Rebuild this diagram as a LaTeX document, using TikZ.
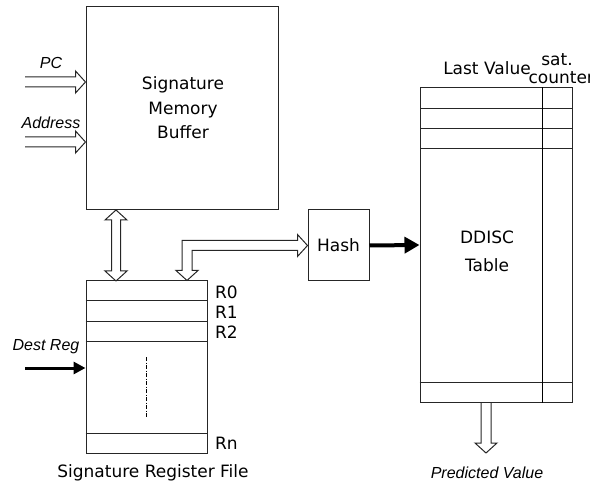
\documentclass[tikz,border=0pt]{standalone}
\usepackage{fontspec}
\setmainfont{DejaVu Sans}
\newfontfamily\inputfont{Liberation Sans}
\usetikzlibrary{arrows.meta,calc}

% hollow (outline) arrows, head 10 long, 22 wide, shaft 10 wide
\newcommand{\hollowright}[2]{%
  \draw[hol] ($(#1)+(0,-5)$) -- ($(#2)+(-10,-5)$) -- ($(#2)+(-10,-11)$) -- (#2)
    -- ($(#2)+(-10,11)$) -- ($(#2)+(-10,5)$) -- ($(#1)+(0,5)$);}
\newcommand{\hollowdown}[2]{%
  \draw[hol] ($(#1)+(-5,0)$) -- ($(#2)+(-5,-10)$) -- ($(#2)+(-11,-10)$) -- (#2)
    -- ($(#2)+(11,-10)$) -- ($(#2)+(5,-10)$) -- ($(#1)+(5,0)$);}
\newcommand{\hollowboth}[2]{%
  \draw[hol] (#1) -- ($(#1)+(11,10)$) -- ($(#1)+(4.5,10)$) -- ($(#2)+(4.5,-10)$)
    -- ($(#2)+(11,-10)$) -- (#2) -- ($(#2)+(-11,-10)$) -- ($(#2)+(-4.5,-10)$)
    -- ($(#1)+(-4.5,10)$) -- ($(#1)+(-11,10)$) -- cycle;}

\begin{document}
\begin{tikzpicture}[
    x=1pt,y=-1pt,
    blk/.style={draw=black!85, line width=1pt, inner sep=0pt},
    hol/.style={draw=black!85, line width=1pt, line join=miter},
    a/.style={-{Triangle[length=15pt,width=16pt]}, line width=4pt},
    lbl/.style={font=\fontsize{17}{20}\selectfont, align=center},
    inp/.style={font=\inputfont\itshape\fontsize{16}{19}\selectfont}
]
\useasboundingbox (0,0) rectangle (606,484);

% Blocks
\node[blk, minimum width=192pt, minimum height=203pt] (smb) at (182,108.5) {};
\node[lbl, font=\fontsize{17}{24.5}\selectfont] (smbtext) at (183,108) {Signature\\Memory\\Buffer};
\node[blk, minimum width=121pt, minimum height=172pt] (regfile) at (146.5,367) {};
\node[blk, minimum width=61pt, minimum height=71pt] (hash) at (338.5,245.5) {};
\node[lbl] (hashtext) at (338.5,245.5) {Hash};
\node[blk, minimum width=152pt, minimum height=314pt] (ddisc) at (496,245) {};
\node[lbl, font=\fontsize{17}{28}\selectfont] (ddisctext) at (487,251) {DDISC\\Table};

% Register rows
\foreach \dy in {20,41,61}
  \draw[black!85, line width=1pt] ($(regfile.north west)+(0,\dy)$) -- ($(regfile.north east)+(0,\dy)$);
\draw[black!85, line width=1pt] ($(regfile.south west)+(0,-20)$) -- ($(regfile.south east)+(0,-20)$);
\draw[line width=0.8pt, dash pattern=on 4pt off 1.5pt on 1pt off 1.5pt] (146,357) -- (146,417);
\node[lbl, anchor=west] (r0) at (211.5,292) {R0};
\node[lbl, anchor=west] (r1) at (211.5,312) {R1};
\node[lbl, anchor=west] (r2) at (211.5,332) {R2};
\node[lbl, anchor=west] (rn) at (211.5,443) {Rn};
\node[lbl] (regname) at (153,473) {Signature Register File};

% Table rows and counter column
\foreach \dy in {21,41,61}
  \draw[black!85, line width=1pt] ($(ddisc.north east)+(0,\dy)$) -- ($(ddisc.north west)+(0,\dy)$);
\draw[black!85, line width=1pt] ($(ddisc.south west)+(0,-20)$) -- ($(ddisc.south east)+(0,-20)$);
\draw[black, line width=1pt] ($(ddisc.north east)+(-30,0)$) -- ($(ddisc.south east)+(-30,0)$);
\node[lbl] (lastval) at (487,68) {Last Value};
\node[lbl] (sat) at (557,60) {sat.};
\begin{scope}
  \clip (500,60) rectangle (589,95);
  \node[lbl, anchor=west] (counter) at (525,78) {counter};
\end{scope}

% Inputs
\coordinate (pcin) at (25,82);
\coordinate (addrin) at (25,142);
\coordinate (destin) at (25,368);
\coordinate (predout) at (486,453);
\coordinate (bend) at (187,246);
\node[inp] (pc) at (51,63) {PC};
\node[inp] (addr) at (51,123) {Address};
\node[inp] (dest) at (46,347) {Dest Reg};
\node[inp] (pred) at (487,473) {Predicted Value};

% Connectors
\hollowright{pcin}{pcin -| smb.west}
\hollowright{addrin}{addrin -| smb.west}
\hollowboth{116,210}{116,281}
\draw[hol] (hash.west) -- ++(-10,-11) -- ++(0,6) -| ($(bend |- regfile.north)+(-5,-10)$)
  -- ++(-6,0) -- (bend |- regfile.north) -- ++(11,-10) -- ++(-6,0)
  |- ($(hash.west)+(-10,5)$) -- ++(0,6) -- cycle;
\hollowdown{predout |- ddisc.south}{predout}
\draw[a, line width=3pt, -{Triangle[length=12pt,width=12pt]}] (destin) -- (destin -| regfile.west);
\draw[a] (hash.east) -- (ddisc.west);
\end{tikzpicture}
\end{document}
